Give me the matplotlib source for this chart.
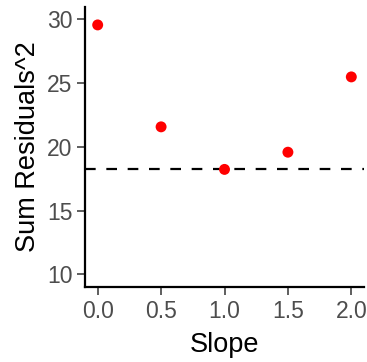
import matplotlib
matplotlib.use("Agg")
import matplotlib.pyplot as plt

plt.rcParams['font.family'] = ['Liberation Sans', 'DejaVu Sans']

# Sum of squared residuals for each candidate slope
slopes = [0.0, 0.5, 1.0, 1.5, 2.0]
sum_resid_sq = [29.57, 21.57, 18.23, 19.58, 25.49]
min_resid = 18.23

x_ticks = [0.0, 0.5, 1.0, 1.5, 2.0]
x_tick_labels = ["0.0", "0.5", "1.0", "1.5", "2.0"]
y_ticks = [10, 15, 20, 25, 30]
y_tick_labels = ["10", "15", "20", "25", "30"]

W, H = 367, 362
fig = plt.figure(figsize=(W / 100, H / 100), dpi=100)
left, right, bottom, top = 85, 364, 287, 6.7
ax = fig.add_axes([left / W, 1 - bottom / H, (right - left) / W, (bottom - top) / H])

ax.scatter(slopes, sum_resid_sq, s=62, color="#FF0000", edgecolors="none", zorder=3)
ax.axhline(min_resid, color="black", linewidth=1.6, dashes=(4.8, 4.8), zorder=2)

ax.set_xlim(-0.1, 2.1)
ax.set_ylim(9, 31)
ax.set_xticks(x_ticks)
ax.set_xticklabels(x_tick_labels)
ax.set_yticks(y_ticks)
ax.set_yticklabels(y_tick_labels)

for side in ("top", "right"):
    ax.spines[side].set_visible(False)
for side in ("left", "bottom"):
    ax.spines[side].set_linewidth(1.6)
    ax.spines[side].set_color("black")

ax.tick_params(axis="both", length=5.5, width=1.1, color="#333333",
               labelcolor="#4D4D4D", labelsize=16.5, pad=3.5)

ax.set_xlabel("Slope", fontsize=19.5, color="black", labelpad=7)
ax.set_ylabel("Sum Residuals^2", fontsize=19.5, color="black", labelpad=4)

fig.savefig("out.png", dpi=100)
